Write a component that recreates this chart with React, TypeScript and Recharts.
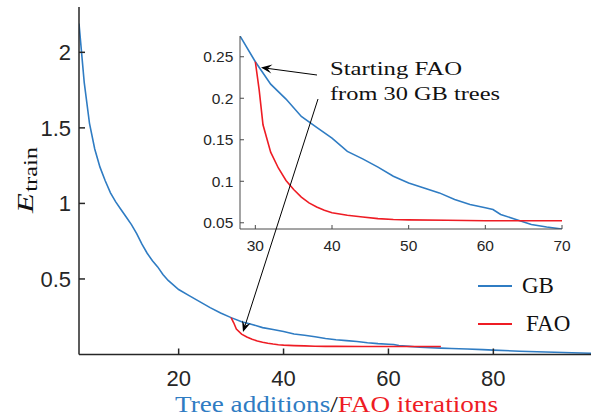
import React from 'react'
import { LineChart, Line, XAxis, YAxis, Legend } from 'recharts'

// GB training error per tree addition
const gbIter = [1, 2, 3, 4, 5, 6, 7, 8, 9, 10, 11, 12, 13, 14, 15, 16, 17, 18, 20, 22, 24, 26, 28, 30, 32, 34, 36, 38, 40, 42, 44, 46, 48, 50, 52, 54, 56, 58, 60, 61, 62, 64, 66, 68, 70, 72, 75, 78, 80, 85, 90, 95, 99]
const gbErr = [2.19, 1.8, 1.53, 1.36, 1.24, 1.15, 1.07, 1.01, 0.96, 0.91, 0.86, 0.8, 0.73, 0.67, 0.62, 0.58, 0.53, 0.49, 0.43, 0.39, 0.35, 0.31, 0.275, 0.244, 0.217, 0.199, 0.178, 0.165, 0.152, 0.136, 0.127, 0.117, 0.106, 0.098, 0.092, 0.086, 0.078, 0.072, 0.068, 0.066, 0.06, 0.054, 0.048, 0.045, 0.0425, 0.04, 0.036, 0.032, 0.029, 0.022, 0.017, 0.012, 0.008]

// FAO iterations, started from 30 GB trees
const faoIter = [30, 30.5, 31, 32, 33, 34, 35, 36, 37, 38, 39, 40, 42, 44, 46, 48, 50, 55, 60, 65, 70]
const faoErr = [0.244, 0.21, 0.168, 0.135, 0.116, 0.101, 0.09, 0.081, 0.074, 0.069, 0.065, 0.062, 0.059, 0.057, 0.055, 0.054, 0.0535, 0.053, 0.0525, 0.0525, 0.0525]

const seriesOrder = ['GB', 'FAO']
const mainXTicks = [20, 40, 60, 80]
const mainYTicks = [0.5, 1, 1.5, 2]
const insetXTicks = [30, 40, 50, 60, 70]
const insetYTicks = [0.05, 0.1, 0.15, 0.2, 0.25]

const gbData = gbIter.map((x, i) => ({ x, y: gbErr[i] }))
const faoData = faoIter.map((x, i) => ({ x, y: faoErr[i] }))

const BLUE = '#2f7cc3'
const RED = '#ee1c24'
const AXIS = '#262626'
const SANS = "'Liberation Sans', Arial, sans-serif"
const SERIF = "'Liberation Serif', 'DejaVu Serif', serif"

function Arrow({ x1, y1, x2, y2 }: { x1: number; y1: number; x2: number; y2: number }) {
  const a = Math.atan2(y2 - y1, x2 - x1)
  const len = 11
  const w = 4.5
  const bx = x2 - len * Math.cos(a)
  const by = y2 - len * Math.sin(a)
  const nx = -Math.sin(a)
  const ny = Math.cos(a)
  const mx = x2 - len * 0.6 * Math.cos(a)
  const my = y2 - len * 0.6 * Math.sin(a)
  const head = `M${x2},${y2} L${bx + nx * w},${by + ny * w} L${mx},${my} L${bx - nx * w},${by - ny * w} Z`
  return (
    <g>
      <line x1={x1} y1={y1} x2={mx} y2={my} stroke="#000" strokeWidth={1} />
      <path d={head} fill="#000" />
    </g>
  )
}

const legendContent = (props: any) => {
  const items = [...(props.payload || [])].sort((a: any, b: any) => seriesOrder.indexOf(a.value) - seriesOrder.indexOf(b.value))
  return (
    <div style={{ display: 'flex', flexDirection: 'column' }}>
      {items.map((it: any) => (
        <div key={it.value} style={{ display: 'flex', alignItems: 'center', height: 38 }}>
          <svg width={34} height={4} style={{ display: 'block' }}>
            <line x1={0} y1={2} x2={34} y2={2} stroke={it.color} strokeWidth={1.8} />
          </svg>
          <span style={{ marginLeft: it.value === 'FAO' ? 14 : 10, fontFamily: SERIF, fontSize: 23, lineHeight: '24px', color: '#111' }}>{it.value}</span>
        </div>
      ))}
    </div>
  )
}

export default function App() {
  return (
    <div style={{ position: 'absolute', left: 0, top: 0, width: 591, height: 416, overflow: 'hidden', background: '#fff' }}>
      {/* main axes */}
      <div style={{ position: 'absolute', left: 0, top: 0 }}>
        <LineChart width={601} height={416} margin={{ top: 7, right: 8, bottom: 0, left: 0 }}>
          <XAxis dataKey="x" type="number" domain={[1, 99]} ticks={mainXTicks} allowDataOverflow
            height={61.5} tickSize={-6} tickMargin={21.5}
            axisLine={{ stroke: AXIS, strokeWidth: 1.5 }} tickLine={{ stroke: AXIS, strokeWidth: 1.5 }}
            tick={{ fill: AXIS, fontSize: 22, fontFamily: SANS }} />
          <XAxis xAxisId="top" orientation="top" dataKey="x" type="number" domain={[1, 99]} ticks={mainXTicks}
            height={0} tickSize={-6} tick={false}
            axisLine={{ stroke: AXIS, strokeWidth: 1.5 }} tickLine={{ stroke: AXIS, strokeWidth: 1.5 }} />
          <YAxis type="number" domain={[0, 2.3]} ticks={mainYTicks} allowDataOverflow
            width={79} tickSize={-6} tickMargin={14}
            axisLine={{ stroke: AXIS, strokeWidth: 1.5 }} tickLine={{ stroke: AXIS, strokeWidth: 1.5 }}
            tick={{ fill: AXIS, fontSize: 22, fontFamily: SANS }} />
          <YAxis yAxisId="right" orientation="right" type="number" domain={[0, 2.3]} ticks={mainYTicks}
            width={0} tickSize={-6} tick={false}
            axisLine={{ stroke: AXIS, strokeWidth: 1.5 }} tickLine={{ stroke: AXIS, strokeWidth: 1.5 }} />
          <Line data={gbData} dataKey="y" name="GB" stroke={BLUE} strokeWidth={1.6} dot={false} isAnimationActive={false} type="linear" />
          <Line data={faoData} dataKey="y" name="FAO" stroke={RED} strokeWidth={1.6} dot={false} isAnimationActive={false} type="linear" />
          <Legend content={legendContent} layout="horizontal" verticalAlign="middle" align="center"
            wrapperStyle={{ position: 'absolute', left: 478, top: 267, width: 110, height: 76 }} />
        </LineChart>
      </div>

      {/* inset axes */}
      <div style={{ position: 'absolute', left: 190, top: 20 }}>
        <LineChart width={390} height={240} margin={{ top: 16, right: 18, bottom: 0, left: 0 }}>
          <XAxis dataKey="x" type="number" domain={[28, 70]} ticks={insetXTicks} allowDataOverflow
            height={31} tickSize={-4} tickMargin={15}
            axisLine={{ stroke: '#4a4a4a' }} tickLine={{ stroke: '#4a4a4a' }}
            tick={{ fill: AXIS, fontSize: 15.5, fontFamily: SANS }} />
          <XAxis xAxisId="top" orientation="top" dataKey="x" type="number" domain={[28, 70]} ticks={insetXTicks} allowDataOverflow
            height={0} tickSize={-4} tick={false}
            axisLine={{ stroke: '#4a4a4a' }} tickLine={{ stroke: '#4a4a4a' }} />
          <YAxis type="number" domain={[0.0425, 0.275]} ticks={insetYTicks} allowDataOverflow
            width={50} tickSize={-4} tickMargin={10.7}
            axisLine={{ stroke: '#4a4a4a' }} tickLine={{ stroke: '#4a4a4a' }}
            tick={{ fill: AXIS, fontSize: 15.5, fontFamily: SANS }} />
          <YAxis yAxisId="right" orientation="right" type="number" domain={[0.0425, 0.275]} ticks={insetYTicks} allowDataOverflow
            width={0} tickSize={-4} tick={false}
            axisLine={{ stroke: '#4a4a4a' }} tickLine={{ stroke: '#4a4a4a' }} />
          <Line data={gbData} dataKey="y" stroke={BLUE} strokeWidth={1.6} dot={false} isAnimationActive={false} type="linear" />
          <Line data={faoData} dataKey="y" stroke={RED} strokeWidth={1.6} dot={false} isAnimationActive={false} type="linear" />
        </LineChart>
      </div>

      {/* labels and annotation */}
      <svg width={591} height={416} style={{ position: 'absolute', left: 0, top: 0, pointerEvents: 'none' }}>
        <text x={175} y={412} fontFamily={SERIF} fontSize={23} textLength={323} lengthAdjust="spacingAndGlyphs">
          <tspan fill={BLUE}>Tree additions</tspan>
          <tspan fill="#111">/</tspan>
          <tspan fill={RED}>FAO iterations</tspan>
        </text>
        <text transform="translate(33,213) rotate(-90)" fontFamily={SERIF} fill="#111" textLength={66} lengthAdjust="spacingAndGlyphs">
          <tspan fontSize={24} fontStyle="italic">E</tspan>
          <tspan fontSize={18} dy={4} dx={1}>train</tspan>
        </text>
        <text x={330} y={75} fontFamily={SERIF} fontSize={19} fill="#111" textLength={132} lengthAdjust="spacingAndGlyphs">Starting FAO</text>
        <text x={330} y={100} fontFamily={SERIF} fontSize={19} fill="#111" textLength={170} lengthAdjust="spacingAndGlyphs">from 30 GB trees</text>
        <Arrow x1={317} y1={75} x2={261} y2={67.5} />
        <Arrow x1={318} y1={99} x2={243} y2={332} />
      </svg>
    </div>
  )
}
